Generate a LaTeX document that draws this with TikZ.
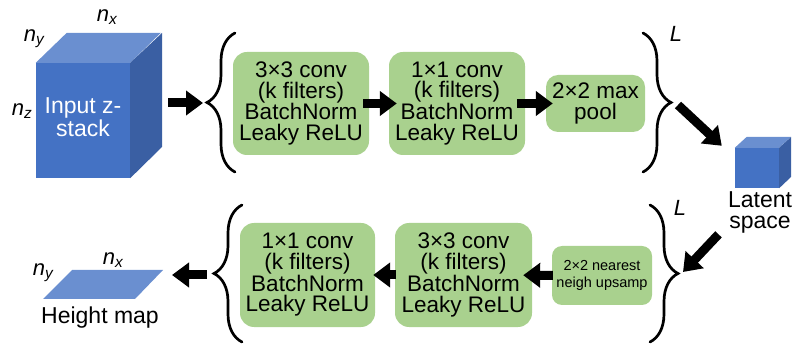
\documentclass[tikz,border=0pt]{standalone}
\usepackage{fontspec}
\setmainfont{Liberation Sans}
\usetikzlibrary{arrows.meta,calc,decorations.pathreplacing}
\definecolor{cubefront}{HTML}{4472C4}
\definecolor{cubetop}{HTML}{6A8FD0}
\definecolor{cubeside}{HTML}{3A5FA3}
\definecolor{layergreen}{HTML}{A9D18E}
\tikzset{
  layer/.style={fill=layergreen, rounded corners=14pt, align=center, inner sep=0pt,
    font=\fontsize{22.5}{20.6}\selectfont},
  small layer/.style={layer, rounded corners=10pt, font=\fontsize{14.5}{17}\selectfont},
  fat/.style={line width=9pt, -{Triangle[length=17pt,width=24pt]}},
  curly/.style={line width=2.7pt, line cap=round, decorate, decoration={brace, amplitude=28pt}},
  dimlbl/.style={font=\fontsize{22}{22}\selectfont\itshape},
  caption/.style={align=center, font=\fontsize{23}{21}\selectfont},
}
\begin{document}
\begin{tikzpicture}[x=1pt, y=-1pt]
    \useasboundingbox (0,0) rectangle (797,344);
    % input z-stack
    \node[fill=cubefront, minimum width=94pt, minimum height=115pt, inner sep=0pt] (input) at (83,120.5) {};
    \fill[cubetop] (input.north west) -- ++(31,-30) -- ++(94,0) -- (input.north east) -- cycle;
    \fill[cubeside] (input.north east) -- ++(32,-30) -- ++(0,114) -- (input.south east) -- cycle;
    \node[caption, text=white] (inputlbl) at (83,117) {Input z-\\stack};
    \node[dimlbl] (nx) at (107,17) {n\textsubscript{x}};
    \node[dimlbl] (ny) at (34,39) {n\textsubscript{y}};
    \node[dimlbl] (nz) at (22,111) {n\textsubscript{z}};
    % encoder block
    \coordinate (encL) at (207,103);
    \coordinate (encR) at (673,102);
    \draw[curly] (235,172) -- (235,33);
    \draw[curly] (643,33) -- (643,172);
    \node[dimlbl] (Lenc) at (676,34) {L};
    \node[layer, minimum width=136pt, minimum height=103pt] (conv1) at (301,103.5)
      {3×3 conv\\(k filters)\\BatchNorm\\Leaky ReLU};
    \node[layer, minimum width=136pt, minimum height=103pt] (conv2) at (457,103.5)
      {1×1 conv\\(k filters)\\BatchNorm\\Leaky ReLU};
    \node[layer, rounded corners=12pt, minimum width=99pt, minimum height=57pt] (pool) at (595.5,103.5)
      {2×2 max\\pool};
    \draw[fat, shorten <=38pt, shorten >=4pt] (input.east |- encL) -- (encL);
    \draw[fat, shorten <=-6pt, shorten >=-8pt] (conv1) -- (conv2);
    \draw[fat, shorten <=-8pt, shorten >=-7pt] (conv2) -- (pool);
    % latent space
    \node[fill=cubefront, minimum width=44pt, minimum height=40pt, inner sep=0pt] (latent) at (757,168) {};
    \fill[cubetop] (latent.north west) -- ++(12,-11) -- ++(44,0) -- (latent.north east) -- cycle;
    \fill[cubeside] (latent.north east) -- ++(12,-11) -- ++(0,40) -- (latent.south east) -- cycle;
    \node[caption] (latentlbl) at (760,212) {Latent\\space};
    \draw[fat] ($(encR)+(5,3)$) -- ($(latent.north west)+(-13,-2)$);
    % decoder block
    \coordinate (decR) at (678,273);
    \coordinate (decL) at (213,275);
    \draw[curly] (650,205) -- (650,342);
    \draw[curly] (242,342) -- (242,205);
    \node[dimlbl] (Ldec) at (680,208) {L};
    \draw[fat] ($(latentlbl.south west)+(-6,-2)$) -- ($(decR)+(5,-1)$);
    \node[small layer, minimum width=100pt, minimum height=59pt] (upsamp) at (602,275.5)
      {2×2 nearest\\neigh upsamp};
    \node[layer, minimum width=137pt, minimum height=104pt] (deconv1) at (463.5,275)
      {3×3 conv\\(k filters)\\BatchNorm\\Leaky ReLU};
    \node[layer, minimum width=135pt, minimum height=104pt] (deconv2) at (307.5,275)
      {1×1 conv\\(k filters)\\BatchNorm\\Leaky ReLU};
    \draw[fat, shorten <=-1pt, shorten >=-9pt] (upsamp) -- (deconv1);
    \draw[fat, shorten <=-1pt, shorten >=-2pt] (deconv1) -- (deconv2);
    % height map
    \coordinate (hmap) at (163,275);
    \fill[cubetop] (43,299) -- (135,299) -- (163,270) -- (72,270) -- cycle;
    \node[dimlbl] (hnx) at (113,260) {n\textsubscript{x}};
    \node[dimlbl] (hny) at (43,273) {n\textsubscript{y}};
    \node[caption] (hmaplbl) at (100,318) {Height map};
    \draw[fat, shorten <=6pt, shorten >=9pt] (decL) -- (hmap);
\end{tikzpicture}
\end{document}
